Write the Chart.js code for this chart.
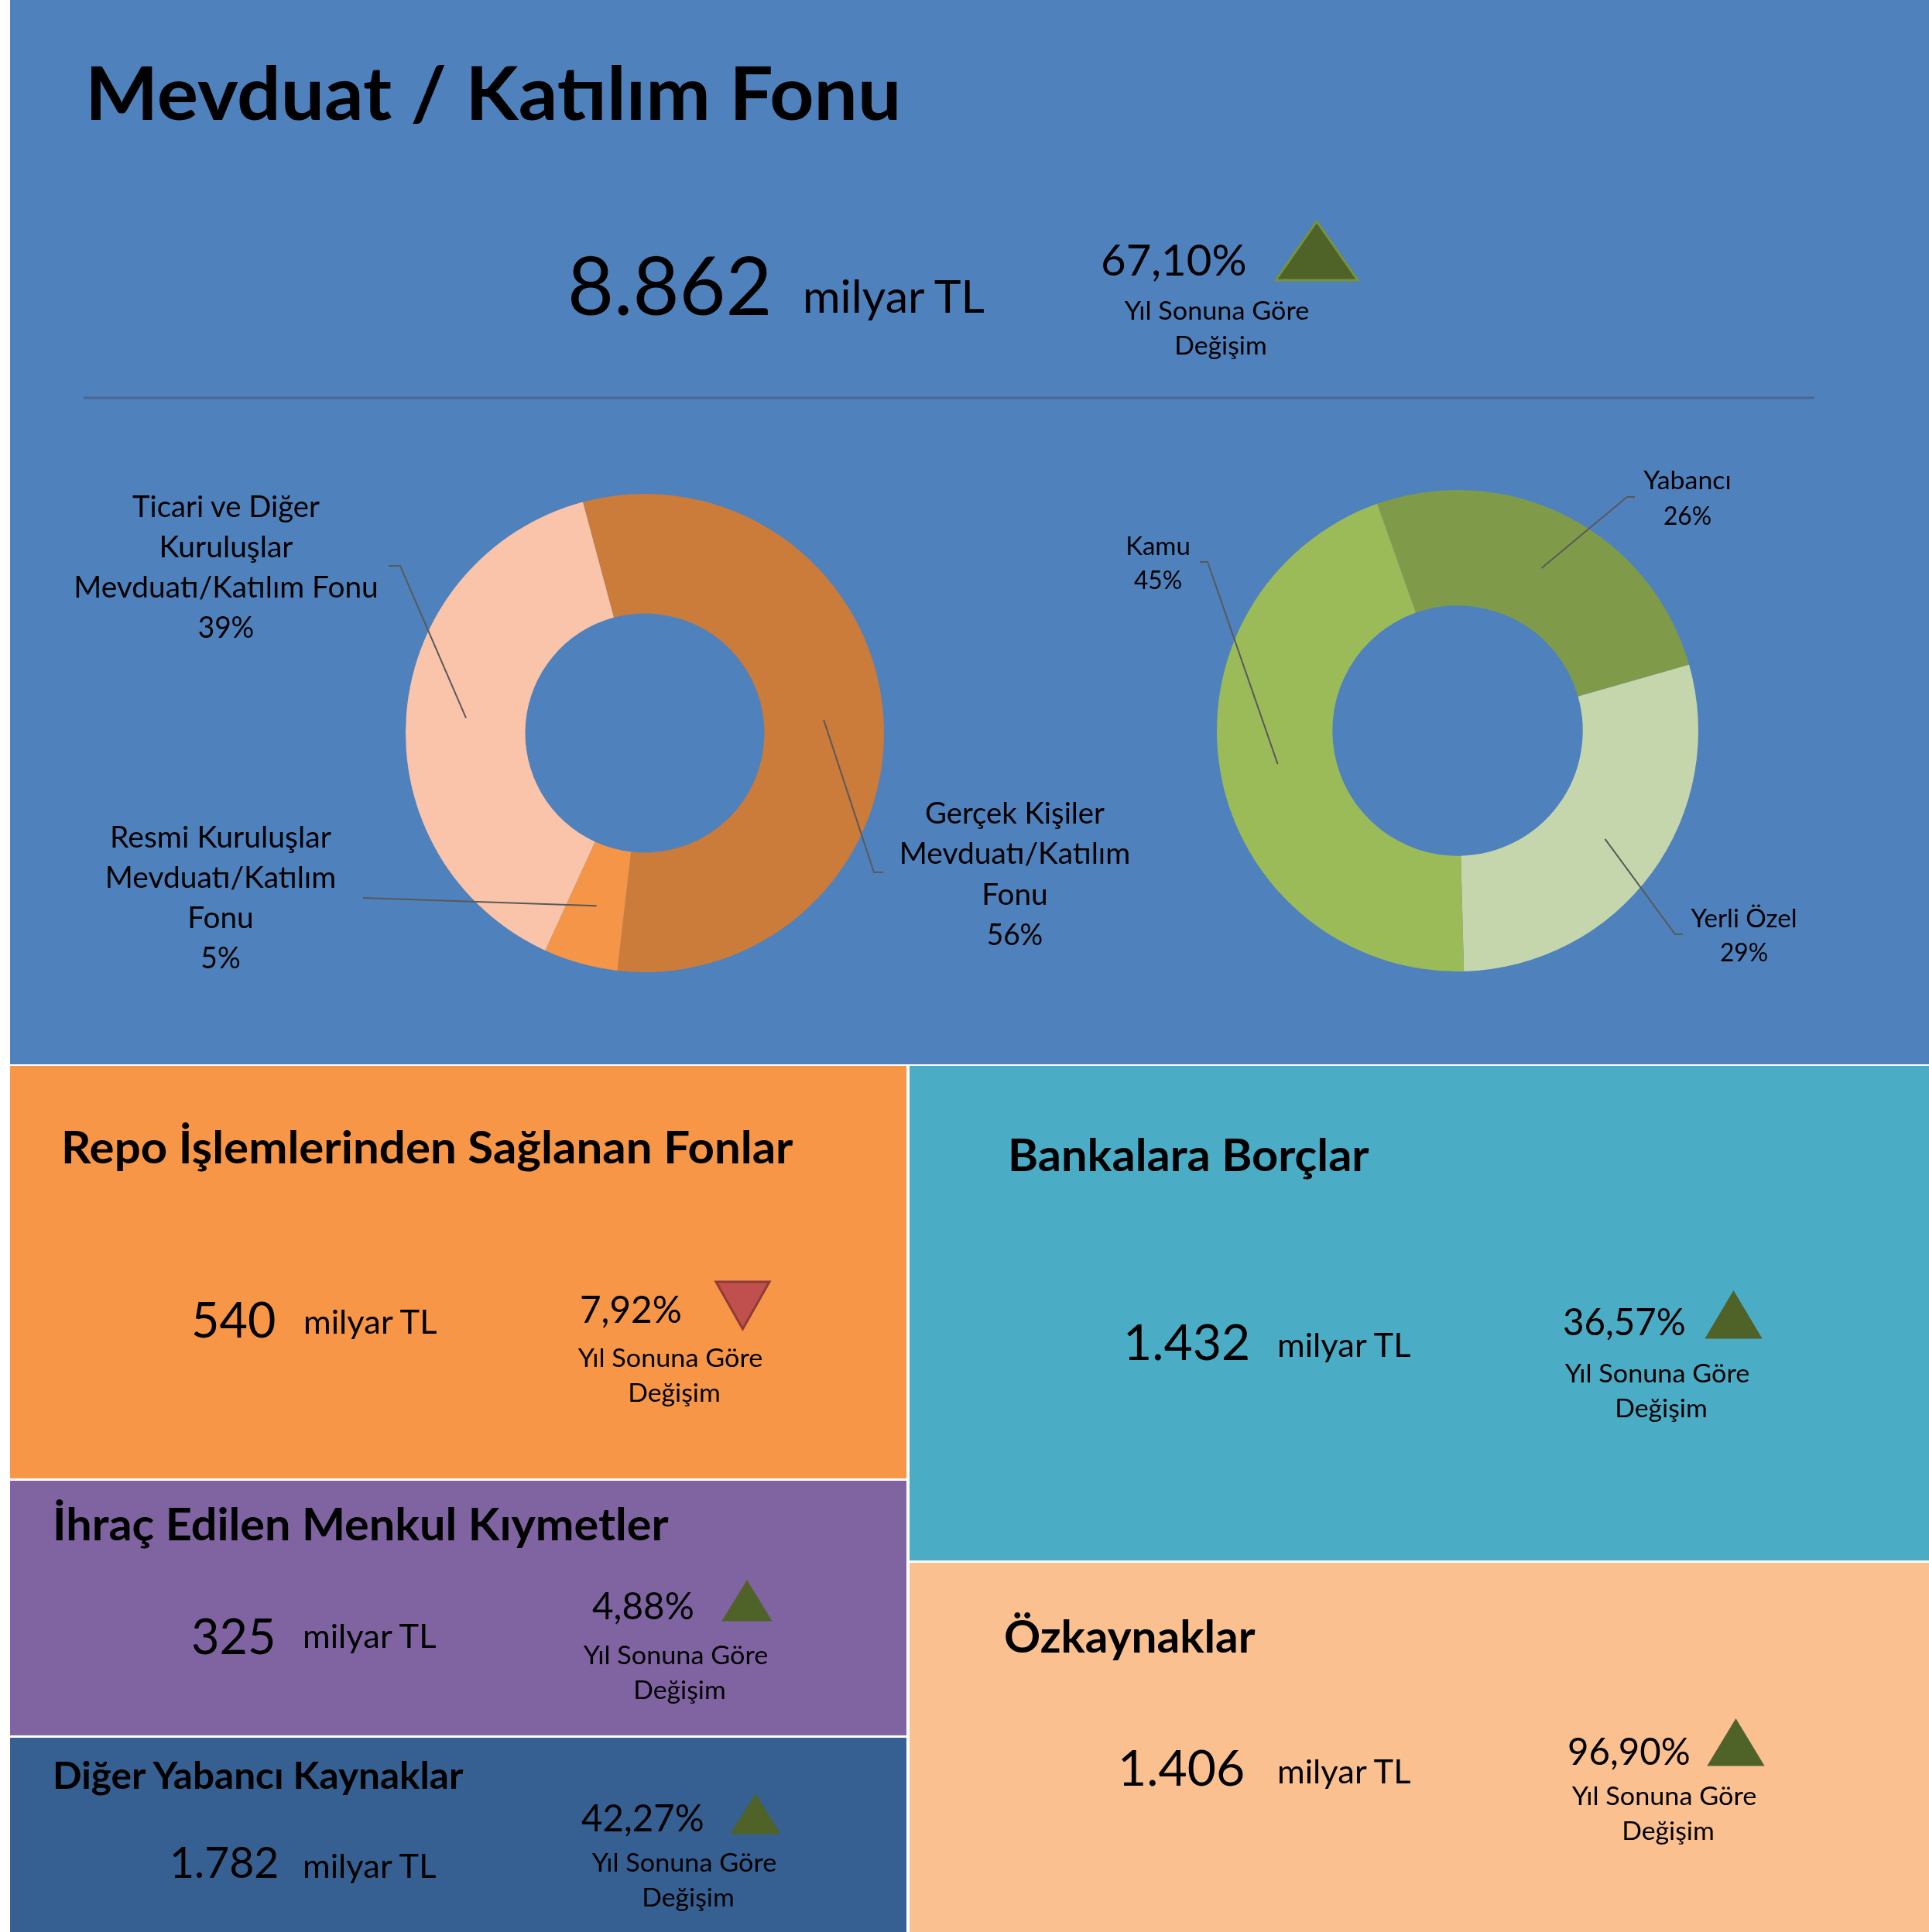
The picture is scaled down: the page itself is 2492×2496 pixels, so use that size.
<!DOCTYPE html>
<html><head><meta charset="utf-8">
<script src="https://cdn.jsdelivr.net/npm/chart.js@4.4.1/dist/chart.umd.min.js"></script>
<style>
html,body{margin:0;padding:0;background:#fff;}
#stage{position:relative;width:2492px;height:2496px;overflow:hidden;background:#fff;}
#stage > *{position:absolute;left:0;top:0;}
</style></head><body>
<div id="stage">
<svg id="bg" width="2492" height="2496" xmlns="http://www.w3.org/2000/svg"></svg>
<canvas id="c1" width="2492" height="2496"></canvas>
<canvas id="c2" width="2492" height="2496"></canvas>
<svg id="fg" width="2492" height="2496" xmlns="http://www.w3.org/2000/svg"></svg>
</div>
<script>
// ---------------- DATA ----------------
const headerTitle = 'Mevduat / Katılım Fonu';
const headerValue = '8.862';
const valueUnit = 'milyar TL';
const headerChange = '67,10%';
const headerDirection = 'up';
const changeCaption = ['Yıl Sonuna Göre', 'Değişim'];

const depositCategories = ['Gerçek Kişiler\nMevduatı/Katılım\nFonu', 'Resmi Kuruluşlar\nMevduatı/Katılım\nFonu', 'Ticari ve Diğer\nKuruluşlar\nMevduatı/Katılım Fonu'];
const depositShares = [56, 5, 39];
const ownerCategories = ['Yabancı', 'Yerli Özel', 'Kamu'];
const ownerShares = [26, 29, 45];

const panelTitles = ['Repo İşlemlerinden Sağlanan Fonlar', 'Bankalara Borçlar', 'İhraç Edilen Menkul Kıymetler', 'Diğer Yabancı Kaynaklar', 'Özkaynaklar'];
const panelValues = ['540', '1.432', '325', '1.782', '1.406'];
const panelChanges = ['7,92%', '36,57%', '4,88%', '42,27%', '96,90%'];
const panelDirections = ['down', 'up', 'up', 'up', 'up'];

// ---------------- STYLE / LAYOUT ----------------
const CAL_R = {' ':0.226,'%':0.715,',':0.250,'.':0.252,'/':0.386,'0':0.507,'1':0.507,'2':0.507,'3':0.507,'4':0.507,'5':0.507,'6':0.507,'7':0.507,'8':0.507,'9':0.507,
 'D':0.615,'F':0.459,'G':0.631,'K':0.521,'L':0.420,'M':0.855,'R':0.543,'S':0.459,'T':0.487,'Y':0.487,'Ö':0.662,
 'a':0.479,'b':0.525,'c':0.423,'ç':0.423,'d':0.525,'e':0.498,'g':0.471,'ğ':0.471,'h':0.525,'i':0.229,'ı':0.229,'k':0.455,'l':0.229,'m':0.799,'n':0.525,'o':0.527,'ö':0.527,'p':0.525,'r':0.349,'s':0.391,'ş':0.391,'t':0.335,'u':0.525,'v':0.452,'y':0.453,'z':0.395};
const CAL_B = {' ':0.226,'/':0.386,'B':0.561,'D':0.630,'E':0.488,'F':0.459,'İ':0.267,'K':0.560,'M':0.874,'R':0.563,'S':0.473,'Y':0.487,'Ö':0.662,
 'a':0.494,'b':0.537,'c':0.418,'ç':0.418,'d':0.537,'e':0.503,'g':0.474,'ğ':0.474,'h':0.537,'i':0.246,'ı':0.246,'k':0.480,'l':0.246,'m':0.813,'n':0.537,'o':0.538,'p':0.537,'r':0.355,'s':0.399,'ş':0.399,'t':0.347,'u':0.537,'v':0.474,'y':0.474,'z':0.395};
const FONT = 'Lato, "Open Sans", "DejaVu Sans", sans-serif';

const NS = 'http://www.w3.org/2000/svg';
const bg = document.getElementById('bg');
const fg = document.getElementById('fg');
function el(parent, tag, attrs, text) {
  const e = document.createElementNS(NS, tag);
  for (const k in attrs) e.setAttribute(k, attrs[k]);
  if (text != null) e.textContent = text;
  parent.appendChild(e);
  return e;
}
function calWidth(s, bold) {
  const t = bold ? CAL_B : CAL_R; let w = 0;
  for (const ch of s) w += (t[ch] !== undefined ? t[ch] : 0.5);
  return w;
}
function txt(x, y, s, size, opts) {
  opts = opts || {};
  const bold = !!opts.bold;
  const len = calWidth(s, bold) * size;
  el(fg, 'text', {x: x, y: y, 'font-family': FONT, 'font-size': (size * 0.9).toFixed(1),
    'font-weight': bold ? 700 : 400, fill: '#000', 'text-anchor': opts.anchor || 'start',
    textLength: len.toFixed(1), lengthAdjust: 'spacingAndGlyphs'}, s);
}
function triangle(x0, x1, yTop, yBot, dir, stroke) {
  const xm = (x0 + x1) / 2;
  const pts = dir === 'up' ? `${xm},${yTop} ${x1},${yBot} ${x0},${yBot}` : `${x0},${yTop} ${x1},${yTop} ${xm},${yBot}`;
  el(fg, 'polygon', {points: pts, fill: dir === 'up' ? '#4F6228' : '#C0504D',
    stroke: stroke || (dir === 'up' ? '#4F6228' : '#8E3B39'), 'stroke-width': 3, 'stroke-linejoin': 'miter'});
}

// background panels
el(bg, 'rect', {x: 13, y: 0, width: 2479, height: 1375, fill: '#4F81BD'});
const PANELS = [
  {x: 13, y: 1377, w: 1158, h: 533, fill: '#F79646', title: [79, 1503, 63.5], value: [247, 1728, 72], unit: [392, 1723], change: [749, 1709], tri: [925, 994, 1656, 1717], cap: [866, 1766]},
  {x: 1175, y: 1377, w: 1317, h: 639, fill: '#4BACC6', title: [1302, 1513, 63.5], value: [1451, 1757, 72], unit: [1650, 1753], change: [2019, 1725], tri: [2205, 2274, 1670, 1728], cap: [2141, 1786]},
  {x: 13, y: 1913, w: 1158, h: 329, fill: '#8064A2', title: [68, 1990, 63.5], value: [247, 2137, 72], unit: [391, 2129], change: [765, 2092], tri: [935, 995, 2044, 2093], cap: [873, 2150]},
  {x: 13, y: 2245, w: 1158, h: 251, fill: '#366092', title: [68, 2311, 53], value: [219, 2426, 62], unit: [391, 2426], change: [751, 2366], tri: [946, 1006, 2320, 2368], cap: [884, 2418]},
  {x: 1175, y: 2019, w: 1317, h: 477, fill: '#FAC090', title: [1297, 2135, 63.5], value: [1444, 2307, 72], unit: [1650, 2304], change: [2025, 2280], tri: [2208, 2277, 2223, 2280], cap: [2150, 2332]}
];
PANELS.forEach(p => el(bg, 'rect', {x: p.x, y: p.y, width: p.w, height: p.h, fill: p.fill}));

// header
txt(110, 155, headerTitle, 107, {bold: true});
txt(733, 407, headerValue, 116);
txt(1037, 404, valueUnit, 64);
txt(1422, 356, headerChange, 63);
triangle(1648, 1754, 286, 362, headerDirection, '#77933C');
txt(1572, 413, changeCaption[0], 37, {anchor: 'middle'});
txt(1577, 458, changeCaption[1], 37, {anchor: 'middle'});
el(fg, 'line', {x1: 108, y1: 514, x2: 2344, y2: 514, stroke: '#4A6891', 'stroke-width': 3});

// panels text
PANELS.forEach((p, i) => {
  txt(p.title[0], p.title[1], panelTitles[i], p.title[2], {bold: true});
  txt(p.value[0], p.value[1], panelValues[i], p.value[2]);
  txt(p.unit[0], p.unit[1], valueUnit, 47);
  txt(p.change[0], p.change[1], panelChanges[i], 53);
  triangle(p.tri[0], p.tri[1], p.tri[2], p.tri[3], panelDirections[i]);
  txt(p.cap[0], p.cap[1], changeCaption[0], 37, {anchor: 'middle'});
  txt(p.cap[0] + 5, p.cap[1] + 45, changeCaption[1], 37, {anchor: 'middle'});
});

// ---------------- DOUGHNUTS ----------------
const LEFT_LABELS = [
  {cx: 1311, y0: 1064, lh: 52.3, size: 42, path: [[1129, 1127], [1141, 1127]]},
  {cx: 285, y0: 1095, lh: 52, size: 42, path: [[469, 1160]]},
  {cx: 292, y0: 668, lh: 52, size: 42, path: [[517, 731], [502, 731]]}
];
const RIGHT_LABELS = [
  {cx: 2180, y0: 632, lh: 46, size: 36, path: [[2102, 642], [2112, 642]]},
  {cx: 2253, y0: 1198, lh: 43.5, size: 36, path: [[2164, 1207], [2174, 1207]]},
  {cx: 1496, y0: 717, lh: 44, size: 36, path: [[1560, 726], [1550, 726]]}
];

function leaderPlugin(layout) {
  return {
    id: 'leaders',
    afterDatasetsDraw(chart) {
      const ctx = chart.ctx;
      const meta = chart.getDatasetMeta(0);
      meta.data.forEach((arc, i) => {
        const c = arc.getCenterPoint();
        ctx.save();
        ctx.beginPath();
        ctx.moveTo(c.x, c.y);
        layout[i].path.forEach(pt => ctx.lineTo(pt[0], pt[1]));
        ctx.strokeStyle = '#595959';
        ctx.lineWidth = 2;
        ctx.stroke();
        ctx.restore();
      });
    }
  };
}
function drawLabels(categories, shares, layout) {
  const total = shares.reduce((a, b) => a + b, 0);
  categories.forEach((cat, i) => {
    const L = layout[i];
    const lines = cat.split('\n').concat([Math.round(shares[i] / total * 100) + '%']);
    lines.forEach((ln, k) => txt(L.cx, L.y0 + k * L.lh, ln, L.size, {anchor: 'middle'}));
  });
}

function donut(id, labels, values, colors, rotation, cutout, padding, layout) {
  return new Chart(document.getElementById(id), {
    type: 'doughnut',
    data: {labels: labels.map(s => s.replace(/\n/g, ' ')), datasets: [{data: values, backgroundColor: colors, borderWidth: 0, hoverOffset: 0}]},
    options: {
      responsive: false, animation: false, events: [], devicePixelRatio: 1,
      rotation: rotation, cutout: cutout,
      layout: {padding: padding},
      plugins: {legend: {display: false}, tooltip: {enabled: false}}
    },
    plugins: [leaderPlugin(layout)]
  });
}

donut('c1', depositCategories, depositShares, ['#CB7B3A', '#F59547', '#F9C4A9'], -15, '50%',
  {left: 524, top: 638, right: 1350, bottom: 1240}, LEFT_LABELS);
donut('c2', ownerCategories, ownerShares, ['#7F9B4A', '#C5D6AD', '#9BBB59'], -19.5, '52%',
  {left: 1572, top: 633, right: 298, bottom: 1241}, RIGHT_LABELS);

drawLabels(depositCategories, depositShares, LEFT_LABELS);
drawLabels(ownerCategories, ownerShares, RIGHT_LABELS);
</script>
</body></html>
